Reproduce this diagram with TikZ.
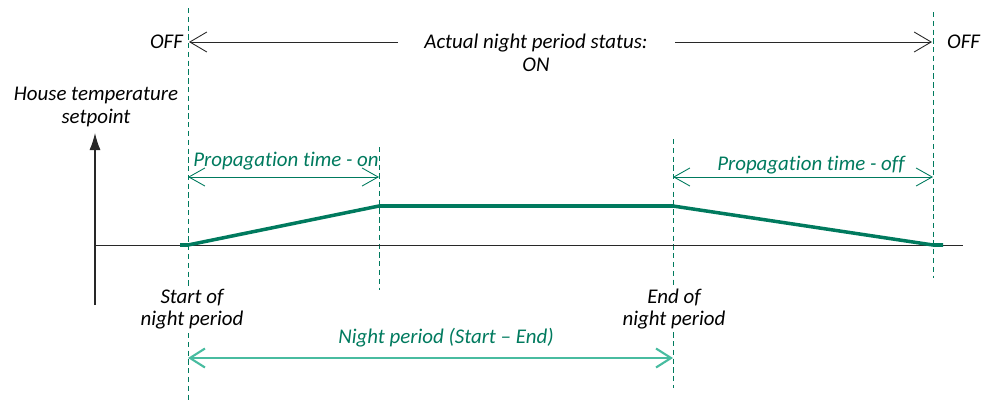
\documentclass[tikz,border=0pt]{standalone}
\usepackage{fontspec}
\setmainfont{Carlito}[Ligatures=NoCommon]
\usepackage{xcolor}
\usepackage{tikz}
\usetikzlibrary{arrows.meta, positioning}
\definecolor{curvegreen}{RGB}{0, 122, 94}
\definecolor{spangreen}{RGB}{72, 188, 160}
\definecolor{axisgray}{RGB}{40, 40, 40}

\begin{document}
\begin{tikzpicture}[
    x=0.02cm, y=-0.02cm,
    txt/.style={font=\fontsize{11.9}{12.8}\selectfont\itshape, inner sep=1pt, align=center},
    gtxt/.style={txt, text=curvegreen},
    marker/.style={curvegreen, line width=0.5pt, dash pattern=on 3pt off 2pt},
    statusarrow/.style={-{Straight Barb[length=0.34cm, width=0.4cm]}, axisgray, line width=0.5pt},
    span/.style={{Straight Barb[length=0.32cm, width=0.36cm]}-{Straight Barb[length=0.32cm, width=0.36cm]},
                 curvegreen, line width=0.5pt},
    nightspan/.style={{Straight Barb[length=0.3cm, width=0.38cm]}-{Straight Barb[length=0.3cm, width=0.38cm]},
                      spangreen, line width=1.2pt},
    curve/.style={curvegreen, line width=2pt, line join=round}
]
    \useasboundingbox (0,0) rectangle (994,403);

    % Time marks
    \coordinate (t0) at (188,245);
    \coordinate (t1) at (379,206);
    \coordinate (t2) at (673,206);
    \coordinate (t3) at (933,245);
    \draw[marker] (188,8) -- (188,403);
    \draw[marker] (379,147) -- (379,290);
    \draw[marker] (673,139) -- (673,388);
    \draw[marker] (933,12) -- (933,278);

    % Axes
    \coordinate (ybot) at (95,305);
    \coordinate (ytop) at (95,133);
    \coordinate (xl) at (96,245);
    \coordinate (xr) at (963,245);
    \draw[-{Latex[length=0.34cm, width=0.22cm]}, axisgray, line width=0.6pt] (ybot) -- (ytop);
    \draw[axisgray, line width=0.5pt] (xl) -- (xr);
    \node[txt] (ylabel) at (96,107) {House temperature\\setpoint};

    % Setpoint curve
    \draw[curve] (180,245) -- (t0) -- (t1) -- (t2) -- (t3) -- (943,245);

    % Night period status
    \node[txt, anchor=east] (offleft) at (185,42) {OFF};
    \node[txt, anchor=west] (offright) at (945,42) {OFF};
    \node[txt] (status) at (536,53) {Actual night period status:\\ON};
    \coordinate (sl) at (398,42);
    \coordinate (sr) at (675,42);
    \coordinate (el) at (189,42);
    \coordinate (er) at (932,42);
    \draw[statusarrow] (sl) -- (el);
    \draw[statusarrow] (sr) -- (er);

    % Propagation times
    \coordinate (onl) at (188,177);
    \coordinate (onr) at (379,177);
    \coordinate (offl) at (673,177);
    \coordinate (offr) at (933,177);
    \draw[span] (onl) -- (onr);
    \draw[span] (offl) -- (offr);
    \node[gtxt] (propon) at (286,161) {Propagation time - on};
    \node[gtxt] (propoff) at (811,165) {Propagation time - off};

    % Night period
    \node[txt, fill=white] (start) at (192,309) {Start of\\night period};
    \node[txt, fill=white] (end) at (674,309) {End of\\night period};
    \coordinate (nl) at (188,358);
    \coordinate (nr) at (673,358);
    \draw[nightspan] (nl) -- (nr);
    \node[gtxt] (night) at (446,338) {Night period (Start -- End)};
\end{tikzpicture}
\end{document}
